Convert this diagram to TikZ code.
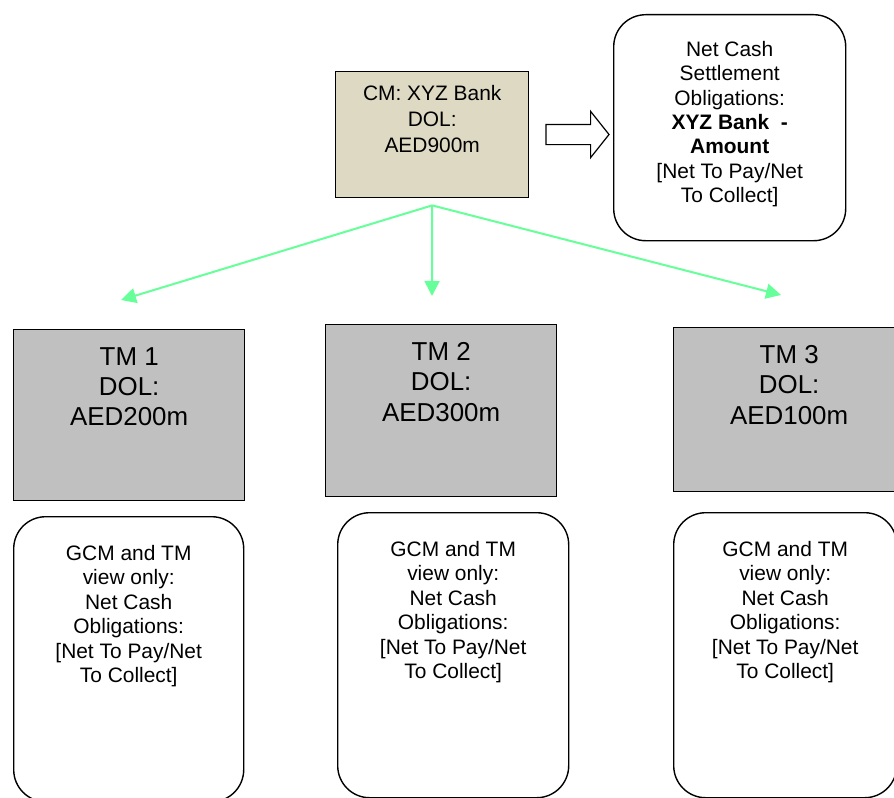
\documentclass[tikz,border=0pt]{standalone}
\usepackage{fontspec}
\setmainfont{Liberation Sans}
\usepackage{tikz}
\usetikzlibrary{arrows.meta,positioning,shapes.arrows}
\definecolor{cmtan}{RGB}{221,217,195}
\definecolor{tmgray}{RGB}{192,192,192}
\definecolor{linkgreen}{RGB}{102,255,153}

\begin{document}
\begin{tikzpicture}[x=1bp, y=-1bp,
  box/.style={draw=black, line width=1.4bp, anchor=north west, inner sep=0pt},
  cmbox/.style={box, fill=cmtan},
  tmbox/.style={box, fill=tmgray},
  notebox/.style={box, fill=white, rounded corners=32bp},
  smalltxt/.style={anchor=north, inner sep=0pt, align=center,
                   font=\fontsize{21}{24.5}\selectfont},
  bigtxt/.style={anchor=north, inner sep=0pt, align=center,
                 font=\fontsize{26}{30.5}\selectfont},
  link/.style={linkgreen, line width=2bp, -{Triangle[length=15bp,width=15bp]}}]
  \useasboundingbox (0,0) rectangle (894,798);
  \clip (0,0) rectangle (894,798);

  % Clearing member
  \node[cmbox, minimum width=193bp, minimum height=126bp] (cm) at (335,71) {};
  \node[smalltxt, font=\fontsize{21}{26}\selectfont, below=14bp of cm.north] (cm-text)
    {CM: XYZ Bank\\DOL:\\AED900m};

  % Settlement box
  \node[notebox, minimum width=232bp, minimum height=226bp] (settle) at (613,14) {};
  \node[smalltxt, below=27bp of settle.north] (settle-text)
    {Net Cash\\Settlement\\Obligations:\\\textbf{XYZ Bank\ \ -}\\\textbf{Amount}\\{[}Net To Pay/Net\\To Collect]};

  % Hollow arrow
  \node[single arrow, draw=black, line width=1.2bp, fill=white,
        inner xsep=0pt, inner ysep=9.5bp, minimum height=63bp,
        single arrow head extend=13bp, single arrow tip angle=103] (flow) at (573.5,134.5) {};

  % Trading members
  \foreach \i/\x/\y/\h/\amt in {1/13/329/171/200, 2/325/324/172/300, 3/673/327/164/100}{
    \node[tmbox, minimum width=231bp, minimum height=\h bp] (tm\i) at (\x,\y) {};
    \node[bigtxt, below=18bp of tm\i.north] (tm\i-text) {TM \i\\DOL:\\AED\amt m};
  }

  % View-only boxes
  \foreach \i/\x/\y/\w in {1/13/516/230, 2/337/512/231, 3/673/512/223}{
    \node[notebox, minimum width=\w bp, minimum height=285bp] (note\i) at (\x,\y) {};
    \node[smalltxt, below=29bp of note\i.north] (note\i-text)
      {GCM and TM\\view only:\\Net Cash\\Obligations:\\{[}Net To Pay/Net\\To Collect]};
  }

  % Green links
  \coordinate (split) at ([yshift=-7bp]cm.south);
  \coordinate (tip1) at (121,300);
  \coordinate (tip2) at (432,296);
  \coordinate (tip3) at (781,295);
  \foreach \i in {1,2,3}
    \draw[link] (split) -- (tip\i);
\end{tikzpicture}
\end{document}
